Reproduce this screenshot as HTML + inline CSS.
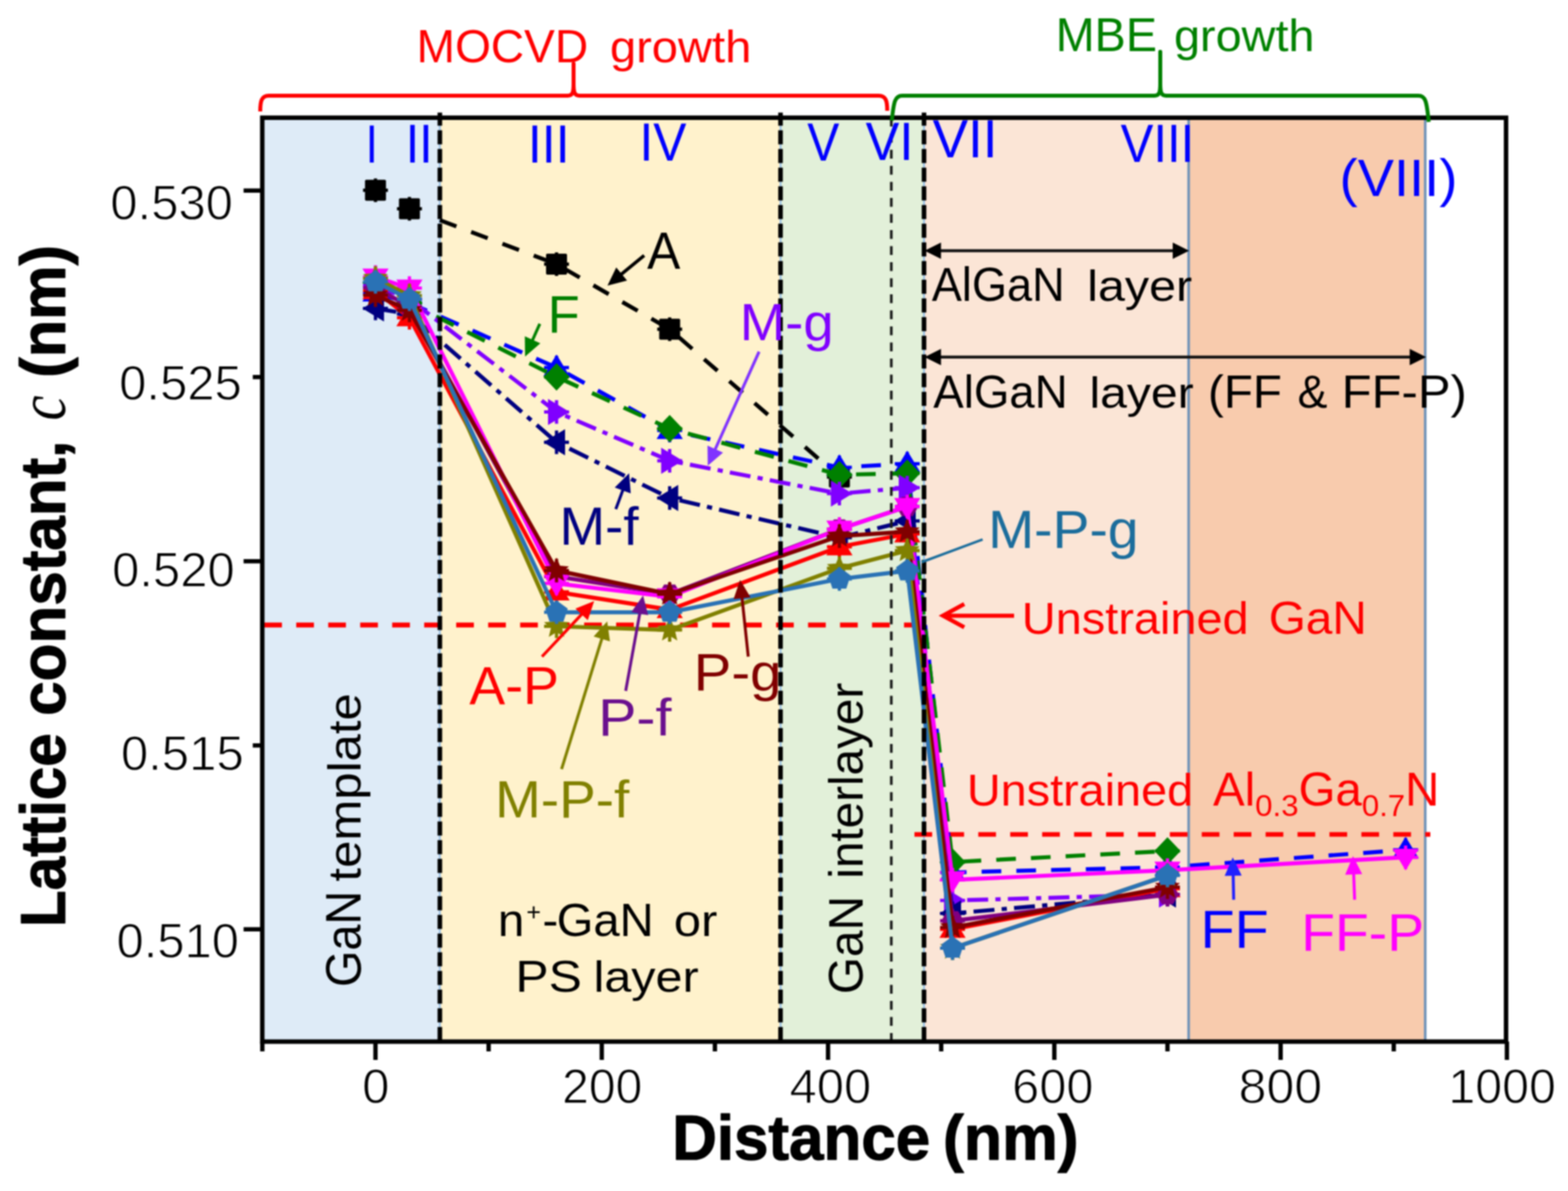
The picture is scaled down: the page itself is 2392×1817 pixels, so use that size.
<!DOCTYPE html>
<html lang="en">
<head>
<meta charset="utf-8">
<title>Lattice constant c versus distance</title>
<style>
html,body{margin:0;padding:0;background:#fff;}
body{width:2392px;height:1817px;overflow:hidden;}
svg{display:block;font-family:"Liberation Sans", Arial, Helvetica, sans-serif;filter:blur(0.9px);}
</style>
</head>
<body>
<svg width="2392" height="1817" viewBox="0 0 2392 1817">
<rect width="2392" height="1817" fill="#ffffff"/>
<rect x="400.1" y="179.6" width="270.9" height="1409.5" fill="#deebf7"/>
<rect x="671.0" y="179.6" width="519.7" height="1409.5" fill="#fff2cc"/>
<rect x="1190.7" y="179.6" width="218.9" height="1409.5" fill="#e2f0d9"/>
<rect x="1409.6" y="179.6" width="403.7" height="1409.5" fill="#fbe5d6"/>
<rect x="1813.3" y="179.6" width="360.9" height="1409.5" fill="#f8cbad"/>
<line x1="1813.3" y1="179.6" x2="1813.3" y2="1589.1" stroke="#6f93b8" stroke-width="4"/>
<line x1="2174.2" y1="179.6" x2="2174.2" y2="1589.1" stroke="#6f93b8" stroke-width="4"/>
<line x1="671.0" y1="179.6" x2="671.0" y2="1589.1" stroke="#9cc2e5" stroke-width="3"/>
<line x1="1190.7" y1="179.6" x2="1190.7" y2="1589.1" stroke="#9cc2e5" stroke-width="3"/>
<line x1="1409.6" y1="179.6" x2="1409.6" y2="1589.1" stroke="#9cc2e5" stroke-width="3"/>
<line x1="403.1" y1="953.5" x2="1409" y2="953.5" stroke="#ff0000" stroke-width="7.5" stroke-dasharray="27 21.8" stroke-dashoffset="0"/>
<line x1="1395" y1="1273" x2="2182" y2="1273" stroke="#ff0000" stroke-width="7" stroke-dasharray="27 21.7"/>
<g id="series" stroke-linejoin="round">
<path d="M671.0 335.9 L849.0 403.0 L1021.6 502.2 L1280.5 727.7" fill="none" stroke="#000000" stroke-width="6.2" stroke-dasharray="27 24"/>
<path d="M572.8 272.2V308.2M553.8 290.2H591.8" stroke="#000000" stroke-width="5" fill="none"/>
<rect x="556.8" y="274.2" width="32" height="32" rx="2" fill="#000000"/>
<path d="M624.6 300.4V336.4M605.6 318.4H643.6" stroke="#000000" stroke-width="5" fill="none"/>
<rect x="608.6" y="302.4" width="32" height="32" rx="2" fill="#000000"/>
<path d="M849.0 385.0V421.0M830.0 403.0H868.0" stroke="#000000" stroke-width="5" fill="none"/>
<rect x="833.0" y="387.0" width="32" height="32" rx="2" fill="#000000"/>
<path d="M1021.6 484.2V520.2M1002.6 502.2H1040.6" stroke="#000000" stroke-width="5" fill="none"/>
<rect x="1005.6" y="486.2" width="32" height="32" rx="2" fill="#000000"/>
<path d="M1280.5 709.7V745.7M1261.5 727.7H1299.5" stroke="#000000" stroke-width="5" fill="none"/>
<rect x="1264.5" y="711.7" width="32" height="32" rx="2" fill="#000000"/>
<path d="M572.8 446.9 L624.6 462.2 L849.0 560.8 L1021.6 656.7 L1280.5 713.1 L1384.0 707.4 L1453.1 1331.0 L1781.0 1323.1 L2144.3 1296.6" fill="none" stroke="#0000ff" stroke-width="6.2" stroke-dasharray="30 23"/>
<path d="M572.8 428.9V464.9M553.8 446.9H591.8" stroke="#0000ff" stroke-width="5" fill="none"/>
<polygon points="572.8,426.9 592.8,459.9 552.8,459.9" fill="#0000ff"/>
<path d="M624.6 444.2V480.2M605.6 462.2H643.6" stroke="#0000ff" stroke-width="5" fill="none"/>
<polygon points="624.6,442.2 644.6,475.2 604.6,475.2" fill="#0000ff"/>
<path d="M849.0 542.8V578.8M830.0 560.8H868.0" stroke="#0000ff" stroke-width="5" fill="none"/>
<polygon points="849.0,540.8 869.0,573.8 829.0,573.8" fill="#0000ff"/>
<path d="M1021.6 638.7V674.7M1002.6 656.7H1040.6" stroke="#0000ff" stroke-width="5" fill="none"/>
<polygon points="1021.6,636.7 1041.6,669.7 1001.6,669.7" fill="#0000ff"/>
<path d="M1280.5 695.1V731.1M1261.5 713.1H1299.5" stroke="#0000ff" stroke-width="5" fill="none"/>
<polygon points="1280.5,693.1 1300.5,726.1 1260.5,726.1" fill="#0000ff"/>
<path d="M1384.0 689.4V725.4M1365.0 707.4H1403.0" stroke="#0000ff" stroke-width="5" fill="none"/>
<polygon points="1384.0,687.4 1404.0,720.4 1364.0,720.4" fill="#0000ff"/>
<path d="M1453.1 1313.0V1349.0M1434.1 1331.0H1472.1" stroke="#0000ff" stroke-width="5" fill="none"/>
<polygon points="1453.1,1311.0 1473.1,1344.0 1433.1,1344.0" fill="#0000ff"/>
<path d="M1781.0 1305.1V1341.1M1762.0 1323.1H1800.0" stroke="#0000ff" stroke-width="5" fill="none"/>
<polygon points="1781.0,1303.1 1801.0,1336.1 1761.0,1336.1" fill="#0000ff"/>
<path d="M2144.3 1278.6V1314.6M2125.3 1296.6H2163.3" stroke="#0000ff" stroke-width="5" fill="none"/>
<polygon points="2144.3,1276.6 2164.3,1309.6 2124.3,1309.6" fill="#0000ff"/>
<path d="M572.8 431.2 L624.6 462.2 L849.0 574.9 L1021.6 653.9 L1280.5 724.3 L1384.0 722.1 L1453.1 1315.2 L1781.0 1298.3" fill="none" stroke="#008000" stroke-width="6.2" stroke-dasharray="30 23"/>
<path d="M572.8 413.2V449.2M553.8 431.2H591.8" stroke="#008000" stroke-width="5" fill="none"/>
<polygon points="572.8,410.2 592.8,431.2 572.8,452.2 552.8,431.2" fill="#008000"/>
<path d="M624.6 444.2V480.2M605.6 462.2H643.6" stroke="#008000" stroke-width="5" fill="none"/>
<polygon points="624.6,441.2 644.6,462.2 624.6,483.2 604.6,462.2" fill="#008000"/>
<path d="M849.0 556.9V592.9M830.0 574.9H868.0" stroke="#008000" stroke-width="5" fill="none"/>
<polygon points="849.0,553.9 869.0,574.9 849.0,595.9 829.0,574.9" fill="#008000"/>
<path d="M1021.6 635.9V671.9M1002.6 653.9H1040.6" stroke="#008000" stroke-width="5" fill="none"/>
<polygon points="1021.6,632.9 1041.6,653.9 1021.6,674.9 1001.6,653.9" fill="#008000"/>
<path d="M1280.5 706.3V742.3M1261.5 724.3H1299.5" stroke="#008000" stroke-width="5" fill="none"/>
<polygon points="1280.5,703.3 1300.5,724.3 1280.5,745.3 1260.5,724.3" fill="#008000"/>
<path d="M1384.0 704.1V740.1M1365.0 722.1H1403.0" stroke="#008000" stroke-width="5" fill="none"/>
<polygon points="1384.0,701.1 1404.0,722.1 1384.0,743.1 1364.0,722.1" fill="#008000"/>
<path d="M1453.1 1297.2V1333.2M1434.1 1315.2H1472.1" stroke="#008000" stroke-width="5" fill="none"/>
<polygon points="1453.1,1294.2 1473.1,1315.2 1453.1,1336.2 1433.1,1315.2" fill="#008000"/>
<path d="M1781.0 1280.3V1316.3M1762.0 1298.3H1800.0" stroke="#008000" stroke-width="5" fill="none"/>
<polygon points="1781.0,1277.3 1801.0,1298.3 1781.0,1319.3 1761.0,1298.3" fill="#008000"/>
<path d="M572.8 435.7 L624.6 456.5 L849.0 628.5 L1021.6 702.9 L1280.5 753.1 L1384.0 744.1 L1453.1 1373.8 L1781.0 1364.8" fill="none" stroke="#8000ff" stroke-width="6.2" stroke-dasharray="32 11 8 11"/>
<path d="M572.8 417.7V453.7M553.8 435.7H591.8" stroke="#8000ff" stroke-width="5" fill="none"/>
<polygon points="592.8,435.7 559.8,415.7 559.8,455.7" fill="#8000ff"/>
<path d="M624.6 438.5V474.5M605.6 456.5H643.6" stroke="#8000ff" stroke-width="5" fill="none"/>
<polygon points="644.6,456.5 611.6,436.5 611.6,476.5" fill="#8000ff"/>
<path d="M849.0 610.5V646.5M830.0 628.5H868.0" stroke="#8000ff" stroke-width="5" fill="none"/>
<polygon points="869.0,628.5 836.0,608.5 836.0,648.5" fill="#8000ff"/>
<path d="M1021.6 684.9V720.9M1002.6 702.9H1040.6" stroke="#8000ff" stroke-width="5" fill="none"/>
<polygon points="1041.6,702.9 1008.6,682.9 1008.6,722.9" fill="#8000ff"/>
<path d="M1280.5 735.1V771.1M1261.5 753.1H1299.5" stroke="#8000ff" stroke-width="5" fill="none"/>
<polygon points="1300.5,753.1 1267.5,733.1 1267.5,773.1" fill="#8000ff"/>
<path d="M1384.0 726.1V762.1M1365.0 744.1H1403.0" stroke="#8000ff" stroke-width="5" fill="none"/>
<polygon points="1404.0,744.1 1371.0,724.1 1371.0,764.1" fill="#8000ff"/>
<path d="M1453.1 1355.8V1391.8M1434.1 1373.8H1472.1" stroke="#8000ff" stroke-width="5" fill="none"/>
<polygon points="1473.1,1373.8 1440.1,1353.8 1440.1,1393.8" fill="#8000ff"/>
<path d="M1781.0 1346.8V1382.8M1762.0 1364.8H1800.0" stroke="#8000ff" stroke-width="5" fill="none"/>
<polygon points="1801.0,1364.8 1768.0,1344.8 1768.0,1384.8" fill="#8000ff"/>
<path d="M572.8 470.6 L624.6 479.1 L849.0 674.7 L1021.6 759.8 L1280.5 820.2 L1384.0 794.8 L1453.1 1393.6 L1781.0 1364.8" fill="none" stroke="#000080" stroke-width="6.2" stroke-dasharray="32 11 8 11"/>
<path d="M572.8 452.6V488.6M553.8 470.6H591.8" stroke="#000080" stroke-width="5" fill="none"/>
<polygon points="552.8,470.6 585.8,450.6 585.8,490.6" fill="#000080"/>
<path d="M624.6 461.1V497.1M605.6 479.1H643.6" stroke="#000080" stroke-width="5" fill="none"/>
<polygon points="604.6,479.1 637.6,459.1 637.6,499.1" fill="#000080"/>
<path d="M849.0 656.7V692.7M830.0 674.7H868.0" stroke="#000080" stroke-width="5" fill="none"/>
<polygon points="829.0,674.7 862.0,654.7 862.0,694.7" fill="#000080"/>
<path d="M1021.6 741.8V777.8M1002.6 759.8H1040.6" stroke="#000080" stroke-width="5" fill="none"/>
<polygon points="1001.6,759.8 1034.6,739.8 1034.6,779.8" fill="#000080"/>
<path d="M1280.5 802.2V838.2M1261.5 820.2H1299.5" stroke="#000080" stroke-width="5" fill="none"/>
<polygon points="1260.5,820.2 1293.5,800.2 1293.5,840.2" fill="#000080"/>
<path d="M1384.0 776.8V812.8M1365.0 794.8H1403.0" stroke="#000080" stroke-width="5" fill="none"/>
<polygon points="1364.0,794.8 1397.0,774.8 1397.0,814.8" fill="#000080"/>
<path d="M1453.1 1375.6V1411.6M1434.1 1393.6H1472.1" stroke="#000080" stroke-width="5" fill="none"/>
<polygon points="1433.1,1393.6 1466.1,1373.6 1466.1,1413.6" fill="#000080"/>
<path d="M1781.0 1346.8V1382.8M1762.0 1364.8H1800.0" stroke="#000080" stroke-width="5" fill="none"/>
<polygon points="1761.0,1364.8 1794.0,1344.8 1794.0,1384.8" fill="#000080"/>
<path d="M572.8 443.6 L624.6 484.7 L849.0 903.1 L1021.6 930.1 L1280.5 834.3 L1384.0 814.5 L1453.1 1417.8 L1781.0 1355.8" fill="none" stroke="#ff0000" stroke-width="6.2"/>
<path d="M572.8 425.6V461.6M553.8 443.6H591.8" stroke="#ff0000" stroke-width="5" fill="none"/>
<polygon points="572.8,423.6 592.8,456.6 552.8,456.6" fill="#ff0000"/>
<path d="M624.6 466.7V502.7M605.6 484.7H643.6" stroke="#ff0000" stroke-width="5" fill="none"/>
<polygon points="624.6,464.7 644.6,497.7 604.6,497.7" fill="#ff0000"/>
<path d="M849.0 885.1V921.1M830.0 903.1H868.0" stroke="#ff0000" stroke-width="5" fill="none"/>
<polygon points="849.0,883.1 869.0,916.1 829.0,916.1" fill="#ff0000"/>
<path d="M1021.6 912.1V948.1M1002.6 930.1H1040.6" stroke="#ff0000" stroke-width="5" fill="none"/>
<polygon points="1021.6,910.1 1041.6,943.1 1001.6,943.1" fill="#ff0000"/>
<path d="M1280.5 816.3V852.3M1261.5 834.3H1299.5" stroke="#ff0000" stroke-width="5" fill="none"/>
<polygon points="1280.5,814.3 1300.5,847.3 1260.5,847.3" fill="#ff0000"/>
<path d="M1384.0 796.5V832.5M1365.0 814.5H1403.0" stroke="#ff0000" stroke-width="5" fill="none"/>
<polygon points="1384.0,794.5 1404.0,827.5 1364.0,827.5" fill="#ff0000"/>
<path d="M1453.1 1399.8V1435.8M1434.1 1417.8H1472.1" stroke="#ff0000" stroke-width="5" fill="none"/>
<polygon points="1453.1,1397.8 1473.1,1430.8 1433.1,1430.8" fill="#ff0000"/>
<path d="M1781.0 1337.8V1373.8M1762.0 1355.8H1800.0" stroke="#ff0000" stroke-width="5" fill="none"/>
<polygon points="1781.0,1335.8 1801.0,1368.8 1761.0,1368.8" fill="#ff0000"/>
<path d="M572.8 439.0 L624.6 467.8 L849.0 879.4 L1021.6 906.4 L1280.5 807.2 L1384.0 772.8 L1453.1 1404.8 L1781.0 1364.8" fill="none" stroke="#800080" stroke-width="6.2"/>
<path d="M572.8 421.0V457.0M553.8 439.0H591.8" stroke="#800080" stroke-width="5" fill="none"/>
<polygon points="589.8,439.0 581.3,453.8 564.3,453.8 555.8,439.0 564.3,424.3 581.3,424.3" fill="#800080"/>
<path d="M624.6 449.8V485.8M605.6 467.8H643.6" stroke="#800080" stroke-width="5" fill="none"/>
<polygon points="641.6,467.8 633.1,482.5 616.1,482.5 607.6,467.8 616.1,453.1 633.1,453.1" fill="#800080"/>
<path d="M849.0 861.4V897.4M830.0 879.4H868.0" stroke="#800080" stroke-width="5" fill="none"/>
<polygon points="866.0,879.4 857.5,894.1 840.5,894.1 832.0,879.4 840.5,864.6 857.5,864.6" fill="#800080"/>
<path d="M1021.6 888.4V924.4M1002.6 906.4H1040.6" stroke="#800080" stroke-width="5" fill="none"/>
<polygon points="1038.6,906.4 1030.1,921.2 1013.1,921.2 1004.6,906.4 1013.1,891.7 1030.1,891.7" fill="#800080"/>
<path d="M1280.5 789.2V825.2M1261.5 807.2H1299.5" stroke="#800080" stroke-width="5" fill="none"/>
<polygon points="1297.5,807.2 1289.0,821.9 1272.0,821.9 1263.5,807.2 1272.0,792.5 1289.0,792.5" fill="#800080"/>
<path d="M1384.0 754.8V790.8M1365.0 772.8H1403.0" stroke="#800080" stroke-width="5" fill="none"/>
<polygon points="1401.0,772.8 1392.5,787.5 1375.5,787.5 1367.0,772.8 1375.5,758.1 1392.5,758.1" fill="#800080"/>
<path d="M1453.1 1386.8V1422.8M1434.1 1404.8H1472.1" stroke="#800080" stroke-width="5" fill="none"/>
<polygon points="1470.1,1404.8 1461.6,1419.6 1444.6,1419.6 1436.1,1404.8 1444.6,1390.1 1461.6,1390.1" fill="#800080"/>
<path d="M1781.0 1346.8V1382.8M1762.0 1364.8H1800.0" stroke="#800080" stroke-width="5" fill="none"/>
<polygon points="1798.0,1364.8 1789.5,1379.5 1772.5,1379.5 1764.0,1364.8 1772.5,1350.1 1789.5,1350.1" fill="#800080"/>
<path d="M572.8 422.7 L624.6 439.6 L849.0 890.1 L1021.6 910.4 L1280.5 807.2 L1384.0 772.8 L1453.1 1342.3 L1781.0 1327.6 L2144.3 1307.9" fill="none" stroke="#ff00ff" stroke-width="6.2"/>
<path d="M572.8 404.7V440.7M553.8 422.7H591.8" stroke="#ff00ff" stroke-width="5" fill="none"/>
<polygon points="572.8,442.7 592.8,409.7 552.8,409.7" fill="#ff00ff"/>
<path d="M624.6 421.6V457.6M605.6 439.6H643.6" stroke="#ff00ff" stroke-width="5" fill="none"/>
<polygon points="624.6,459.6 644.6,426.6 604.6,426.6" fill="#ff00ff"/>
<path d="M849.0 872.1V908.1M830.0 890.1H868.0" stroke="#ff00ff" stroke-width="5" fill="none"/>
<polygon points="849.0,910.1 869.0,877.1 829.0,877.1" fill="#ff00ff"/>
<path d="M1021.6 892.4V928.4M1002.6 910.4H1040.6" stroke="#ff00ff" stroke-width="5" fill="none"/>
<polygon points="1021.6,930.4 1041.6,897.4 1001.6,897.4" fill="#ff00ff"/>
<path d="M1280.5 789.2V825.2M1261.5 807.2H1299.5" stroke="#ff00ff" stroke-width="5" fill="none"/>
<polygon points="1280.5,827.2 1300.5,794.2 1260.5,794.2" fill="#ff00ff"/>
<path d="M1384.0 754.8V790.8M1365.0 772.8H1403.0" stroke="#ff00ff" stroke-width="5" fill="none"/>
<polygon points="1384.0,792.8 1404.0,759.8 1364.0,759.8" fill="#ff00ff"/>
<path d="M1453.1 1324.3V1360.3M1434.1 1342.3H1472.1" stroke="#ff00ff" stroke-width="5" fill="none"/>
<polygon points="1453.1,1362.3 1473.1,1329.3 1433.1,1329.3" fill="#ff00ff"/>
<path d="M1781.0 1309.6V1345.6M1762.0 1327.6H1800.0" stroke="#ff00ff" stroke-width="5" fill="none"/>
<polygon points="1781.0,1347.6 1801.0,1314.6 1761.0,1314.6" fill="#ff00ff"/>
<path d="M2144.3 1289.9V1325.9M2125.3 1307.9H2163.3" stroke="#ff00ff" stroke-width="5" fill="none"/>
<polygon points="2144.3,1327.9 2164.3,1294.9 2124.3,1294.9" fill="#ff00ff"/>
<path d="M572.8 450.3 L624.6 473.4 L849.0 870.4 L1021.6 906.4 L1280.5 817.9 L1384.0 811.2 L1453.1 1415.0 L1781.0 1353.5" fill="none" stroke="#800000" stroke-width="6.2"/>
<path d="M572.8 432.3V468.3M553.8 450.3H591.8" stroke="#800000" stroke-width="5" fill="none"/>
<polygon points="572.8,430.3 578.1,443.0 591.8,444.1 581.4,453.1 584.6,466.5 572.8,459.3 561.0,466.5 564.2,453.1 553.8,444.1 567.5,443.0" fill="#800000"/>
<path d="M624.6 455.4V491.4M605.6 473.4H643.6" stroke="#800000" stroke-width="5" fill="none"/>
<polygon points="624.6,453.4 629.9,466.2 643.6,467.3 633.1,476.2 636.3,489.6 624.6,482.4 612.8,489.6 616.0,476.2 605.6,467.3 619.3,466.2" fill="#800000"/>
<path d="M849.0 852.4V888.4M830.0 870.4H868.0" stroke="#800000" stroke-width="5" fill="none"/>
<polygon points="849.0,850.4 854.3,863.1 868.0,864.2 857.5,873.1 860.7,886.5 849.0,879.4 837.2,886.5 840.4,873.1 829.9,864.2 843.7,863.1" fill="#800000"/>
<path d="M1021.6 888.4V924.4M1002.6 906.4H1040.6" stroke="#800000" stroke-width="5" fill="none"/>
<polygon points="1021.6,886.4 1026.9,899.2 1040.6,900.3 1030.1,909.2 1033.3,922.6 1021.6,915.4 1009.8,922.6 1013.0,909.2 1002.5,900.3 1016.3,899.2" fill="#800000"/>
<path d="M1280.5 799.9V835.9M1261.5 817.9H1299.5" stroke="#800000" stroke-width="5" fill="none"/>
<polygon points="1280.5,797.9 1285.8,810.6 1299.5,811.7 1289.0,820.7 1292.2,834.1 1280.5,826.9 1268.7,834.1 1271.9,820.7 1261.4,811.7 1275.2,810.6" fill="#800000"/>
<path d="M1384.0 793.2V829.2M1365.0 811.2H1403.0" stroke="#800000" stroke-width="5" fill="none"/>
<polygon points="1384.0,791.2 1389.3,803.9 1403.0,805.0 1392.6,813.9 1395.8,827.3 1384.0,820.2 1372.3,827.3 1375.5,813.9 1365.0,805.0 1378.7,803.9" fill="#800000"/>
<path d="M1453.1 1397.0V1433.0M1434.1 1415.0H1472.1" stroke="#800000" stroke-width="5" fill="none"/>
<polygon points="1453.1,1395.0 1458.4,1407.7 1472.1,1408.8 1461.6,1417.8 1464.8,1431.2 1453.1,1424.0 1441.3,1431.2 1444.5,1417.8 1434.0,1408.8 1447.8,1407.7" fill="#800000"/>
<path d="M1781.0 1335.5V1371.5M1762.0 1353.5H1800.0" stroke="#800000" stroke-width="5" fill="none"/>
<polygon points="1781.0,1333.5 1786.3,1346.2 1800.0,1347.3 1789.6,1356.3 1792.8,1369.7 1781.0,1362.5 1769.2,1369.7 1772.4,1356.3 1762.0,1347.3 1775.7,1346.2" fill="#800000"/>
<path d="M572.8 424.4 L624.6 450.9 L849.0 955.5 L1021.6 961.1 L1280.5 867.0 L1384.0 839.9 L1453.1 1446.6 L1781.0 1335.5" fill="none" stroke="#808000" stroke-width="6.2"/>
<path d="M572.8 406.4V442.4M553.8 424.4H591.8" stroke="#808000" stroke-width="5" fill="none"/>
<polygon points="572.8,404.4 578.1,417.1 591.8,418.2 581.4,427.2 584.6,440.6 572.8,433.4 561.0,440.6 564.2,427.2 553.8,418.2 567.5,417.1" fill="#808000"/>
<path d="M624.6 432.9V468.9M605.6 450.9H643.6" stroke="#808000" stroke-width="5" fill="none"/>
<polygon points="624.6,430.9 629.9,443.6 643.6,444.7 633.1,453.7 636.3,467.1 624.6,459.9 612.8,467.1 616.0,453.7 605.6,444.7 619.3,443.6" fill="#808000"/>
<path d="M849.0 937.5V973.5M830.0 955.5H868.0" stroke="#808000" stroke-width="5" fill="none"/>
<polygon points="849.0,935.5 854.3,948.2 868.0,949.3 857.5,958.3 860.7,971.7 849.0,964.5 837.2,971.7 840.4,958.3 829.9,949.3 843.7,948.2" fill="#808000"/>
<path d="M1021.6 943.1V979.1M1002.6 961.1H1040.6" stroke="#808000" stroke-width="5" fill="none"/>
<polygon points="1021.6,941.1 1026.9,953.8 1040.6,954.9 1030.1,963.9 1033.3,977.3 1021.6,970.1 1009.8,977.3 1013.0,963.9 1002.5,954.9 1016.3,953.8" fill="#808000"/>
<path d="M1280.5 849.0V885.0M1261.5 867.0H1299.5" stroke="#808000" stroke-width="5" fill="none"/>
<polygon points="1280.5,847.0 1285.8,859.7 1299.5,860.8 1289.0,869.7 1292.2,883.1 1280.5,876.0 1268.7,883.1 1271.9,869.7 1261.4,860.8 1275.2,859.7" fill="#808000"/>
<path d="M1384.0 821.9V857.9M1365.0 839.9H1403.0" stroke="#808000" stroke-width="5" fill="none"/>
<polygon points="1384.0,819.9 1389.3,832.6 1403.0,833.7 1392.6,842.7 1395.8,856.1 1384.0,848.9 1372.3,856.1 1375.5,842.7 1365.0,833.7 1378.7,832.6" fill="#808000"/>
<path d="M1453.1 1428.6V1464.6M1434.1 1446.6H1472.1" stroke="#808000" stroke-width="5" fill="none"/>
<polygon points="1453.1,1426.6 1458.4,1439.3 1472.1,1440.4 1461.6,1449.3 1464.8,1462.7 1453.1,1455.6 1441.3,1462.7 1444.5,1449.3 1434.0,1440.4 1447.8,1439.3" fill="#808000"/>
<path d="M1781.0 1317.5V1353.5M1762.0 1335.5H1800.0" stroke="#808000" stroke-width="5" fill="none"/>
<polygon points="1781.0,1315.5 1786.3,1328.2 1800.0,1329.3 1789.6,1338.3 1792.8,1351.7 1781.0,1344.5 1769.2,1351.7 1772.4,1338.3 1762.0,1329.3 1775.7,1328.2" fill="#808000"/>
<path d="M572.8 430.0 L624.6 456.5 L849.0 934.1 L1021.6 934.1 L1280.5 883.3 L1384.0 870.9 L1453.1 1446.6 L1781.0 1335.5" fill="none" stroke="#2a72b5" stroke-width="6.2"/>
<path d="M572.8 412.0V448.0M553.8 430.0H591.8" stroke="#2a72b5" stroke-width="5" fill="none"/>
<polygon points="572.8,412.0 589.9,424.5 583.4,444.6 562.2,444.6 555.7,424.5" fill="#2a72b5"/>
<path d="M624.6 438.5V474.5M605.6 456.5H643.6" stroke="#2a72b5" stroke-width="5" fill="none"/>
<polygon points="624.6,438.5 641.7,451.0 635.2,471.1 614.0,471.1 607.5,451.0" fill="#2a72b5"/>
<path d="M849.0 916.1V952.1M830.0 934.1H868.0" stroke="#2a72b5" stroke-width="5" fill="none"/>
<polygon points="849.0,916.1 866.1,928.5 859.5,948.6 838.4,948.6 831.8,928.5" fill="#2a72b5"/>
<path d="M1021.6 916.1V952.1M1002.6 934.1H1040.6" stroke="#2a72b5" stroke-width="5" fill="none"/>
<polygon points="1021.6,916.1 1038.7,928.5 1032.1,948.6 1011.0,948.6 1004.4,928.5" fill="#2a72b5"/>
<path d="M1280.5 865.3V901.3M1261.5 883.3H1299.5" stroke="#2a72b5" stroke-width="5" fill="none"/>
<polygon points="1280.5,865.3 1297.6,877.8 1291.0,897.9 1269.9,897.9 1263.3,877.8" fill="#2a72b5"/>
<path d="M1384.0 852.9V888.9M1365.0 870.9H1403.0" stroke="#2a72b5" stroke-width="5" fill="none"/>
<polygon points="1384.0,852.9 1401.1,865.4 1394.6,885.5 1373.4,885.5 1366.9,865.4" fill="#2a72b5"/>
<path d="M1453.1 1428.6V1464.6M1434.1 1446.6H1472.1" stroke="#2a72b5" stroke-width="5" fill="none"/>
<polygon points="1453.1,1428.6 1470.2,1441.0 1463.6,1461.1 1442.5,1461.1 1435.9,1441.0" fill="#2a72b5"/>
<path d="M1781.0 1317.5V1353.5M1762.0 1335.5H1800.0" stroke="#2a72b5" stroke-width="5" fill="none"/>
<polygon points="1781.0,1317.5 1798.1,1329.9 1791.6,1350.0 1770.4,1350.0 1763.9,1329.9" fill="#2a72b5"/>
</g>
<line x1="671.0" y1="171.8" x2="671.0" y2="1589.1" stroke="#000" stroke-width="7" stroke-dasharray="21.5 7" stroke-dashoffset="1.5"/>
<line x1="1190.7" y1="171.8" x2="1190.7" y2="1589.1" stroke="#000" stroke-width="7" stroke-dasharray="21.5 7" stroke-dashoffset="1.5"/>
<line x1="1409.6" y1="171.8" x2="1409.6" y2="1589.1" stroke="#000" stroke-width="7" stroke-dasharray="21.5 7" stroke-dashoffset="1.5"/>
<line x1="1359.7" y1="179.6" x2="1359.7" y2="1589.1" stroke="#1a1a1a" stroke-width="4" stroke-dasharray="13.5 11" stroke-dashoffset="0"/>
<rect x="400.1" y="179.6" width="1897.4" height="1409.5" fill="none" stroke="#000" stroke-width="6.8"/>
<path d="M400.2 1589.1v15M572.8 1589.1v28M745.4 1589.1v15M918.0 1589.1v28M1090.6 1589.1v15M1263.2 1589.1v28M1435.8 1589.1v15M1608.4 1589.1v28M1781.0 1589.1v15M1953.6 1589.1v28M2126.2 1589.1v15M2298.8 1589.1v28M400.1 1417.8h-28.5M400.1 1137.3h-14.5M400.1 856.3h-28.5M400.1 575.3h-14.5M400.1 290.7h-28.5" stroke="#000" stroke-width="6.6" fill="none"/>
<text transform="translate(716.1,1074.2) scale(0.9944,1)" font-size="82.32" fill="#ff0000" text-anchor="start" font-weight="normal" >A-P</text>
<text transform="translate(912.4,1122.4) scale(1.088,1)" font-size="80.58" fill="#6a0f8e" text-anchor="start" font-weight="normal" >P-f</text>
<text transform="translate(1058.3,1053.0) scale(1.07,1)" font-size="80.43" fill="#800000" text-anchor="start" font-weight="normal" >P-g</text>
<text transform="translate(755.2,1247.0) scale(1.04,1)" font-size="80.58" fill="#808000" text-anchor="start" font-weight="normal" >M-P-f</text>
<text transform="translate(1507.4,835.5) scale(1.024,1)" font-size="82.32" fill="#1b6d9c" text-anchor="start" font-weight="normal" >M-P-g</text>
<text transform="translate(1128.5,519.3) scale(1.039,1)" font-size="80.14" fill="#8000ff" text-anchor="start" font-weight="normal" >M-g</text>
<text transform="translate(853.4,830.7) scale(1.025,1)" font-size="81.59" fill="#000080" text-anchor="start" font-weight="normal" >M-f</text>
<text transform="translate(987.2,409.8) scale(0.9472,1)" font-size="80.0" fill="#000000" text-anchor="start" font-weight="normal" >A</text>
<text transform="translate(835.4,506.8) scale(1.007,1)" font-size="79.42" fill="#008000" text-anchor="start" font-weight="normal" >F</text>
<text transform="translate(1831.6,1446.0) scale(1.046,1)" font-size="81.16" fill="#0000ff" text-anchor="start" font-weight="normal" >FF</text>
<text transform="translate(1985.0,1449.7) scale(1.061,1)" font-size="79.57" fill="#ff00ff" text-anchor="start" font-weight="normal" >FF-P</text>
<text transform="translate(558.0,247.6) scale(0.8025,1)" font-size="82.17" fill="#0000ff" text-anchor="start" font-weight="normal" >I</text>
<text transform="translate(619.1,248.0) scale(0.8916,1)" font-size="82.75" fill="#0000ff" text-anchor="start" font-weight="normal" >II</text>
<text transform="translate(805.2,247.6) scale(0.9303,1)" font-size="82.17" fill="#0000ff" text-anchor="start" font-weight="normal" >III</text>
<text transform="translate(975.4,244.5) scale(0.9296,1)" font-size="81.74" fill="#0000ff" text-anchor="start" font-weight="normal" >IV</text>
<text transform="translate(1231.5,244.5) scale(0.8969,1)" font-size="81.74" fill="#0000ff" text-anchor="start" font-weight="normal" >V</text>
<text transform="translate(1320.5,244.0) scale(0.9374,1)" font-size="82.32" fill="#0000ff" text-anchor="start" font-weight="normal" >VI</text>
<text transform="translate(1422.7,240.3) scale(0.9924,1)" font-size="81.59" fill="#0000ff" text-anchor="start" font-weight="normal" >VII</text>
<text transform="translate(1709.4,247.4) scale(0.916,1)" font-size="81.88" fill="#0000ff" text-anchor="start" font-weight="normal" >VIII</text>
<text transform="translate(2043.6,299.0) scale(1.033,1)" font-size="80.28" fill="#0000ff" text-anchor="start" font-weight="normal" >(VIII)</text>
<text transform="translate(635.6,94.7) scale(0.9921,1)" font-size="70.87" fill="#ff0000" text-anchor="start" font-weight="normal" >MOCVD</text>
<text transform="translate(930.4,95.3) scale(1.053,1)" font-size="68.28" fill="#ff0000" text-anchor="start" font-weight="normal" >growth</text>
<text transform="translate(1610.4,77.7) scale(0.993,1)" font-size="71.88" fill="#008000" text-anchor="start" font-weight="normal" >MBE</text>
<text transform="translate(1790.9,78.0) scale(1.038,1)" font-size="68.83" fill="#008000" text-anchor="start" font-weight="normal" >growth</text>
<text transform="translate(1421.5,459.0) scale(0.9608,1)" font-size="71.59" fill="#000" text-anchor="start" font-weight="normal" >AlGaN</text>
<text transform="translate(1658.5,459.0) scale(1.096,1)" font-size="67.45" fill="#000" text-anchor="start" font-weight="normal" >layer</text>
<text transform="translate(1423.8,622.4) scale(0.9814,1)" font-size="70.87" fill="#000" text-anchor="start" font-weight="normal" >AlGaN</text>
<text transform="translate(1661.9,622.4) scale(1.1,1)" font-size="66.76" fill="#000" text-anchor="start" font-weight="normal" >layer</text>
<text transform="translate(1842.8,622.4) scale(1.024,1)" font-size="70.87" fill="#000" text-anchor="start" font-weight="normal" >(FF</text>
<text transform="translate(1979.4,622.4) scale(0.962,1)" font-size="70.87" fill="#000" text-anchor="start" font-weight="normal" >&amp;</text>
<text transform="translate(2046.8,622.4) scale(1.054,1)" font-size="70.87" fill="#000" text-anchor="start" font-weight="normal" >FF-P)</text>
<text transform="translate(1558.8,967.3) scale(1.057,1)" font-size="67.72" fill="#ff0000" text-anchor="start" font-weight="normal" >Unstrained</text>
<text transform="translate(1935.4,967.3) scale(1.023,1)" font-size="71.16" fill="#ff0000" text-anchor="start" font-weight="normal" >GaN</text>
<text transform="translate(1475.0,1229.2) scale(1.052,1)" font-size="67.86" fill="#ff0000" text-anchor="start" font-weight="normal" >Unstrained</text>
<text transform="translate(849.2,1427.7) scale(1.03,1)" font-size="69.86" fill="#000" text-anchor="start" font-weight="normal" >GaN</text>
<text transform="translate(1028.0,1427.7) scale(1.075,1)" font-size="69.25" fill="#000" text-anchor="start" font-weight="normal" >or</text>
<text transform="translate(786.3,1513.1) scale(1.12,1)" font-size="67.83" fill="#000" text-anchor="start" font-weight="normal" >PS</text>
<text transform="translate(905.5,1513.1) scale(1.115,1)" font-size="66.34" fill="#000" text-anchor="start" font-weight="normal" >layer</text>
<text transform="translate(168.3,335.0) scale(1.012,1)" font-size="73.86" fill="#000" text-anchor="start" font-weight="normal" stroke="#fff" stroke-width="1.3">0.530</text>
<text transform="translate(181.8,609.6) scale(1.012,1)" font-size="73.86" fill="#000" text-anchor="start" font-weight="normal" stroke="#fff" stroke-width="1.3">0.525</text>
<text transform="translate(171.0,894.6) scale(1.012,1)" font-size="73.86" fill="#000" text-anchor="start" font-weight="normal" stroke="#fff" stroke-width="1.3">0.520</text>
<text transform="translate(184.4,1175.0) scale(1.014,1)" font-size="73.86" fill="#000" text-anchor="start" font-weight="normal" stroke="#fff" stroke-width="1.3">0.515</text>
<text transform="translate(177.8,1460.9) scale(1.011,1)" font-size="73.86" fill="#000" text-anchor="start" font-weight="normal" stroke="#fff" stroke-width="1.3">0.510</text>
<text transform="translate(552.4,1683.1) scale(1.02,1)" font-size="73.29" fill="#000" text-anchor="start" font-weight="normal" stroke="#fff" stroke-width="1.3">0</text>
<text transform="translate(857.4,1683.1) scale(1.002,1)" font-size="73.29" fill="#000" text-anchor="start" font-weight="normal" stroke="#fff" stroke-width="1.3">200</text>
<text transform="translate(1204.5,1683.1) scale(1.019,1)" font-size="73.29" fill="#000" text-anchor="start" font-weight="normal" stroke="#fff" stroke-width="1.3">400</text>
<text transform="translate(1544.1,1683.1) scale(1.013,1)" font-size="73.29" fill="#000" text-anchor="start" font-weight="normal" stroke="#fff" stroke-width="1.3">600</text>
<text transform="translate(1889.5,1683.1) scale(1.043,1)" font-size="73.29" fill="#000" text-anchor="start" font-weight="normal" stroke="#fff" stroke-width="1.3">800</text>
<text transform="translate(2209.4,1683.1) scale(1.007,1)" font-size="73.29" fill="#000" text-anchor="start" font-weight="normal" stroke="#fff" stroke-width="1.3">1000</text>
<text transform="translate(549.6,1505.8) rotate(-90) scale(0.9431,1)" font-size="75.8" fill="#000" text-anchor="start" font-weight="normal" >GaN</text>
<text transform="translate(549.6,1344.9) rotate(-90) scale(1.053,1)" font-size="71.17" fill="#000" text-anchor="start" font-weight="normal" >template</text>
<text transform="translate(1316.0,1516.7) rotate(-90) scale(0.9772,1)" font-size="74.64" fill="#000" text-anchor="start" font-weight="normal" >GaN</text>
<text transform="translate(1316.0,1340.5) rotate(-90) scale(1.004,1)" font-size="72.41" fill="#000" text-anchor="start" font-weight="normal" >interlayer</text>
<text transform="translate(1025.4,1768.9) scale(0.9636,0.985)" font-size="98.0" fill="#000" text-anchor="start" font-weight="bold" stroke="#000" stroke-width="1.6" stroke-linejoin="round">Distance</text>
<text transform="translate(1438.5,1768.9) scale(0.9749,0.985)" font-size="98.0" fill="#000" text-anchor="start" font-weight="bold" stroke="#000" stroke-width="1.6" stroke-linejoin="round">(nm)</text>
<text transform="translate(98.7,1414.4) rotate(-90) scale(0.9312,0.985)" font-size="98.5" fill="#000" text-anchor="start" font-weight="bold" stroke="#000" stroke-width="1.6" stroke-linejoin="round">Lattice</text>
<text transform="translate(98.7,1092.0) rotate(-90) scale(0.9589,0.985)" font-size="98.5" fill="#000" text-anchor="start" font-weight="bold" stroke="#000" stroke-width="1.6" stroke-linejoin="round">constant,</text>
<text transform="translate(98.7,576.2) rotate(-90) scale(0.9489,0.985)" font-size="98.5" fill="#000" text-anchor="start" font-weight="bold" stroke="#000" stroke-width="1.6" stroke-linejoin="round">(nm)</text>
<text transform="translate(99.0,641.6) rotate(-90) scale(0.829,1)" font-size="104" fill="#000" text-anchor="start" font-weight="normal" font-family='"Liberation Serif", "Times New Roman", serif' font-style="italic">c</text>
<text transform="translate(759.6,1427.7) scale(1.03,1)" font-size="70.5" fill="#000" text-anchor="start" font-weight="normal" >n<tspan font-size="37" dy="-24" dx="3">+</tspan><tspan dy="24" dx="2">-</tspan></text>
<text transform="translate(1850.5,1229.2) scale(1.012,1)" font-size="71.5" fill="#ff0000" text-anchor="start" font-weight="normal" >Al<tspan font-size="47" dy="16">0.3</tspan><tspan dy="-16">Ga</tspan><tspan font-size="47" dy="16">0.7</tspan><tspan dy="-16">N</tspan></text>
<path d="M397.0 170.0 C397.0 154.0 399.0 146.0 410.0 146.0 H866.0 C873.5 146.0 875.0 141.0 875.0 128.0 V97.0 V128.0 C875.0 141.0 876.5 146.0 884.0 146.0 H1340.5 C1351.5 146.0 1353.5 154.0 1353.5 169.0" fill="none" stroke="#ff0000" stroke-width="6" stroke-linecap="butt" stroke-linejoin="round"/>
<path d="M1360.5 184.0 C1363.5 154.0 1365.5 146.0 1376.5 146.0 H1761.0 C1768.5 146.0 1770.0 141.0 1770.0 128.0 V79.0 V128.0 C1770.0 141.0 1771.5 146.0 1779.0 146.0 H2163.5 C2174.5 146.0 2176.5 154.0 2179.5 186.0" fill="none" stroke="#008000" stroke-width="6" stroke-linecap="butt" stroke-linejoin="round"/>
<line x1="1433.5" y1="382.4" x2="1791.0" y2="382.4" stroke="#111" stroke-width="4.5"/>
<polygon points="1410.5,382.4 1435.5,369.9 1435.5,394.9" fill="#000"/>
<polygon points="1814.0,382.4 1789.0,369.9 1789.0,394.9" fill="#000"/>
<line x1="1433.5" y1="544.7" x2="2152.5" y2="544.7" stroke="#111" stroke-width="4.5"/>
<polygon points="1410.5,544.7 1435.5,532.2 1435.5,557.2" fill="#000"/>
<polygon points="2175.5,544.7 2150.5,532.2 2150.5,557.2" fill="#000"/>
<path d="M1547 939.3H1440M1471 921.5L1438.5 939.3L1471 957" fill="none" stroke="#ff0000" stroke-width="6.3" stroke-linejoin="miter"/>
<line x1="982.7" y1="389.7" x2="946.8" y2="419.2" stroke="#000000" stroke-width="5"/>
<polygon points="926.7,435.7 940.1,407.9 956.6,428.0" fill="#000000"/>
<line x1="823.5" y1="494.0" x2="811.7" y2="520.3" stroke="#008000" stroke-width="4.5"/>
<polygon points="801.0,544.0 800.6,513.1 824.3,523.8" fill="#008000"/>
<line x1="1158.0" y1="536.5" x2="1090.4" y2="686.9" stroke="#8033ff" stroke-width="4.5"/>
<polygon points="1079.7,710.6 1079.3,679.7 1103.0,690.4" fill="#8033ff"/>
<line x1="939.4" y1="776.8" x2="950.7" y2="746.3" stroke="#000080" stroke-width="4.5"/>
<polygon points="959.7,721.9 962.2,752.7 937.8,743.7" fill="#000080"/>
<line x1="826.8" y1="1001.7" x2="888.6" y2="935.9" stroke="#ff0000" stroke-width="4.5"/>
<polygon points="906.4,917.0 896.7,946.3 877.8,928.5" fill="#ff0000"/>
<line x1="856.7" y1="1173.3" x2="918.6" y2="972.8" stroke="#808000" stroke-width="4.5"/>
<polygon points="926.3,948.0 930.5,978.6 905.6,970.9" fill="#808000"/>
<line x1="954.5" y1="1054.0" x2="976.3" y2="934.1" stroke="#6a0f8e" stroke-width="4.5"/>
<polygon points="981.0,908.5 988.8,938.4 963.2,933.7" fill="#6a0f8e"/>
<line x1="1141.5" y1="1001.7" x2="1131.8" y2="910.7" stroke="#800000" stroke-width="4.5"/>
<polygon points="1129.0,884.8 1144.9,911.3 1119.1,914.0" fill="#800000"/>
<line x1="1882.0" y1="1372.6" x2="1881.2" y2="1334.0" stroke="#2020ff" stroke-width="4.5"/>
<polygon points="1880.6,1308.0 1894.2,1335.7 1868.2,1336.3" fill="#2020ff"/>
<line x1="2066.5" y1="1372.6" x2="2065.0" y2="1332.0" stroke="#ff00ff" stroke-width="4.5"/>
<polygon points="2064.0,1306.0 2078.0,1333.5 2052.1,1334.5" fill="#ff00ff"/>
<line x1="1499" y1="823" x2="1406" y2="857.6" stroke="#1b6d9c" stroke-width="4"/>
</svg>
</body>
</html>
